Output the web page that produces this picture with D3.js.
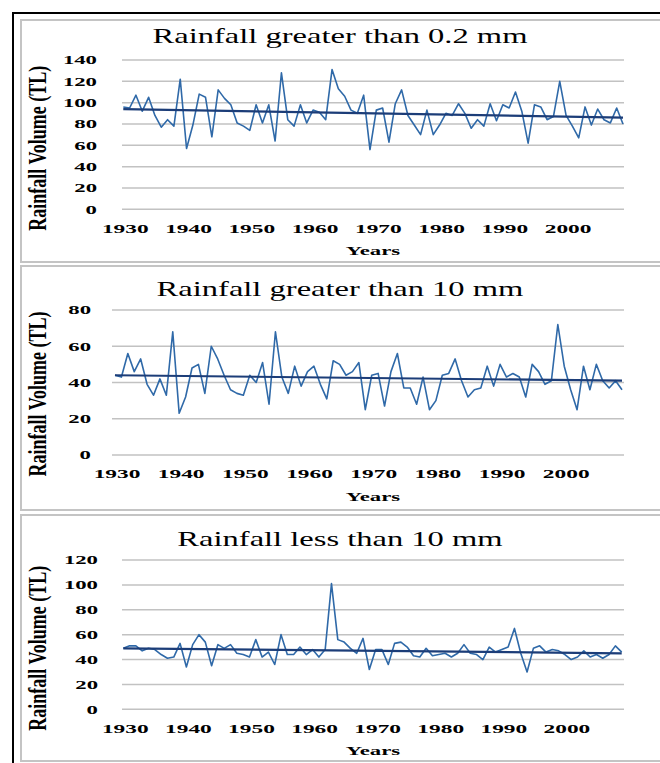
<!DOCTYPE html>
<html><head><meta charset="utf-8">
<script src="https://cdn.jsdelivr.net/npm/d3@7"></script>
<style>body{margin:0;background:#fff}svg{display:block}</style>
</head><body>
<svg id="chart" width="660" height="763"></svg>
<script>
// ---------- DATA ----------
const years = [1930,1931,1932,1933,1934,1935,1936,1937,1938,1939,
1940,1941,1942,1943,1944,1945,1946,1947,1948,1949,
1950,1951,1952,1953,1954,1955,1956,1957,1958,1959,
1960,1961,1962,1963,1964,1965,1966,1967,1968,1969,
1970,1971,1972,1973,1974,1975,1976,1977,1978,1979,
1980,1981,1982,1983,1984,1985,1986,1987,1988,1989,
1990,1991,1992,1993,1994,1995,1996,1997,1998,1999,
2000,2001,2002,2003,2004,2005,2006,2007,2008,2009];

const rainGt02 = [96,95,107,92,105,88,77,84,78,122,
57,79,108,105,68,112,104,98,81,78,
74,98,81,98,64,128,84,78,98,81,
93,91,84,131,113,106,93,90,107,56,
93,95,63,99,112,88,79,70,93,70,
79,90,88,99,90,76,84,78,99,83,
98,95,110,92,62,98,96,84,87,120,
88,78,67,96,79,94,84,81,95,80];

const rainGt10 = [44,43,56,46,53,39,33,42,33,68,
23,32,48,50,34,60,53,44,36,34,
33,44,40,51,28,68,43,34,49,38,
46,49,39,31,52,50,44,46,51,25,
44,45,27,46,56,37,37,28,43,25,
30,44,45,53,41,32,36,37,49,38,
50,43,45,43,32,50,46,39,41,72,
49,36,25,49,36,50,41,37,41,36];

const rainLt10 = [49,51,51,47,49,48,44,41,42,53,
34,52,60,54,35,52,49,52,45,44,
42,56,42,46,36,60,44,44,50,44,
48,42,48,101,56,54,49,45,57,32,
48,48,36,53,54,50,43,42,49,43,
44,45,42,45,52,45,44,40,50,46,
48,50,65,45,30,49,51,46,48,47,
44,40,42,47,42,44,41,44,51,46];

// linear trend endpoints (value at first and last year)
const trendGt02 = [94, 86];
const trendGt10 = [44, 41];
const trendLt10 = [49, 45];

const ticksGt02 = [0,20,40,60,80,100,120,140];
const ticksGt10 = [0,20,40,60,80];
const ticksLt10 = [0,20,40,60,80,100,120];

const xTickYears = [1930,1940,1950,1960,1970,1980,1990,2000];

const titles = ["Rainfall greater than 0.2 mm","Rainfall greater than 10 mm","Rainfall less than 10 mm"];
const yTitle = "Rainfall Volume (TL)";
const xTitle = "Years";

// ---------- LAYOUT ----------
const layout = [
  {values: rainGt02, trend: trendGt02, ticks: ticksGt02, title: titles[0],
   boxTop: 20, boxBottom: 262, titleY: 43, gridL: 122, gridR: 624, x0: 123.3, x1: 623,
   yTop: 60, yZero: 209.3, tickRight: 97},
  {values: rainGt10, trend: trendGt10, ticks: ticksGt10, title: titles[1],
   boxTop: 266, boxBottom: 510, titleY: 296, gridL: 112, gridR: 624, x0: 115, x1: 622,
   yTop: 310, yZero: 455, tickRight: 91},
  {values: rainLt10, trend: trendLt10, ticks: ticksLt10, title: titles[2],
   boxTop: 515, boxBottom: 761, titleY: 546, gridL: 122, gridR: 624, x0: 123.3, x1: 621.7,
   yTop: 560, yZero: 709.3, tickRight: 98}
];

const svg = d3.select("#chart");
const SERIF = "'Liberation Serif','Times New Roman',serif";

function stext(g, x, y, str, o) {
  const t = g.append("text")
    .attr("transform", `translate(${x},${y}) scale(${o.sx||1},1)` + (o.rotate ? " rotate(-90)" : ""))
    .attr("text-anchor", o.anchor || "start")
    .attr("font-family", SERIF)
    .attr("font-size", o.size)
    .attr("font-weight", o.weight || "normal")
    .attr("fill", o.fill || "#000")
    .text(str);
  return t;
}

// outer frame
svg.append("rect").attr("x", 13).attr("y", 13).attr("width", 700).attr("height", 800)
  .attr("fill", "none").attr("stroke", "#000").attr("stroke-width", 2);

layout.forEach(p => {
  const g = svg.append("g");
  // panel box
  g.append("rect").attr("x", 21).attr("y", p.boxTop).attr("width", 700).attr("height", p.boxBottom - p.boxTop)
    .attr("fill", "#fff").attr("stroke", "#c4c4c4").attr("stroke-width", 2);

  const x = d3.scaleLinear().domain([years[0], years[years.length-1]]).range([p.x0, p.x1]);
  const y = d3.scaleLinear().domain([0, d3.max(p.ticks)]).range([p.yZero, p.yTop]);

  // gridlines
  g.selectAll("line.grid").data(p.ticks).join("line")
    .attr("x1", p.gridL).attr("x2", p.gridR)
    .attr("y1", d => y(d)).attr("y2", d => y(d))
    .attr("stroke", "#c2c2c2").attr("stroke-width", 1.5);

  // y tick labels
  p.ticks.forEach(t => stext(g, p.tickRight, y(t) + 4.4, String(t), {size: 13, weight: "bold", anchor: "end", sx: 1.75}));
  // x tick labels
  xTickYears.forEach(yr => stext(g, x(yr) + 2, p.yZero + 23.4, String(yr), {size: 13, weight: "bold", anchor: "middle", sx: 1.8}));
  // x title
  stext(g, (p.gridL + p.gridR) / 2 + (p.gridL < 120 ? 5 : 0), p.yZero + 45.7, xTitle, {size: 13, weight: "bold", anchor: "middle", sx: 1.75});
  // y title
  stext(g, 46, p.yZero - 61, yTitle, {size: 18, weight: "bold", anchor: "middle", sx: 1.4, rotate: true});
  // chart title
  stext(g, 340, p.titleY, p.title, {size: 21, anchor: "middle", sx: 1.55});

  // data line
  const line = d3.line().x((d, i) => x(years[i])).y(d => y(d));
  g.append("path").datum(p.values).attr("d", line)
    .attr("fill", "none").attr("stroke", "#2f69a8").attr("stroke-width", 1.6)
    .attr("stroke-linejoin", "round");

  // trend line
  g.append("line")
    .attr("x1", x(years[0])).attr("y1", y(p.trend[0]))
    .attr("x2", x(years[years.length-1])).attr("y2", y(p.trend[1]))
    .attr("stroke", "#1c3d78").attr("stroke-width", 2.2);
});
</script>
</body></html>
